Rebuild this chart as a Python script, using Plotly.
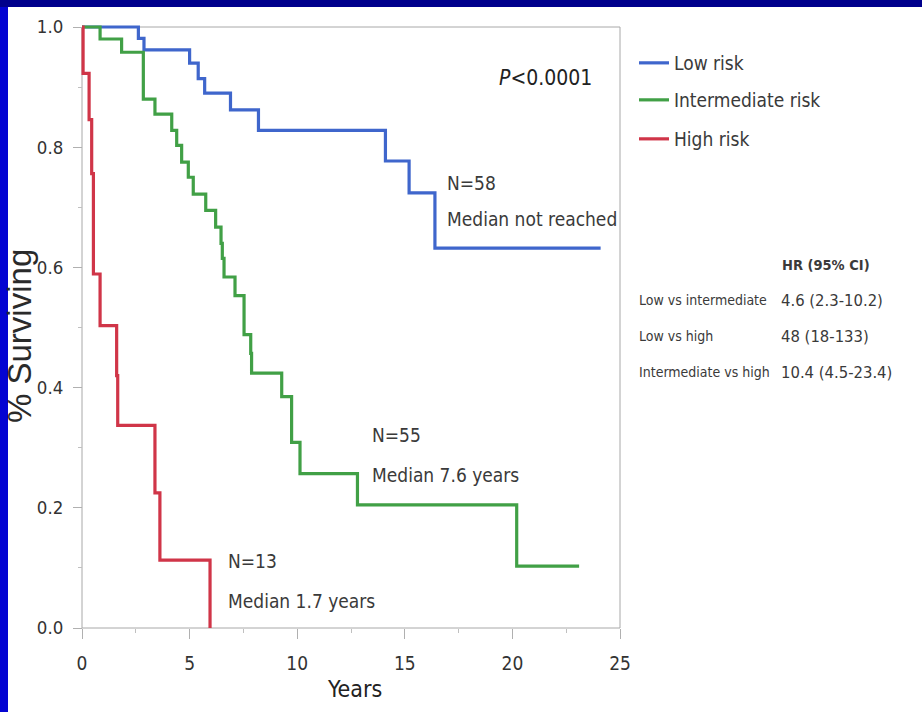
import plotly.graph_objects as go

# ---------------- data ----------------
low_t = [0, 2.62, 2.88, 5.0, 5.4, 5.7, 6.9, 8.2, 14.1, 15.2, 16.4, 24.1]
low_s = [1.0, 0.981, 0.962, 0.94, 0.914, 0.89, 0.862, 0.828, 0.777, 0.724, 0.632, 0.632]

mid_t = [0, 0.84, 1.84, 2.85, 3.39, 4.17, 4.4, 4.63, 4.94, 5.17, 5.75, 6.21, 6.46, 6.52,
         6.6, 7.11, 7.53, 7.84, 7.88, 9.28, 9.74, 10.13, 12.8, 20.2, 23.1]
mid_s = [1.0, 0.98, 0.958, 0.88, 0.855, 0.828, 0.803, 0.775, 0.75, 0.722, 0.695, 0.667, 0.64, 0.615,
         0.584, 0.553, 0.488, 0.457, 0.424, 0.385, 0.309, 0.257, 0.205, 0.103, 0.103]

high_t = [0, 0.05, 0.33, 0.45, 0.53, 0.84, 1.61, 1.66, 3.39, 3.62, 5.95]
high_s = [1.0, 0.923, 0.846, 0.756, 0.589, 0.503, 0.42, 0.337, 0.225, 0.113, 0.0]

series_names = ["Low risk", "Intermediate risk", "High risk"]
series_colors = ["#3f66cc", "#41a046", "#d03548"]

x_ticks = [0, 5, 10, 15, 20, 25]
y_ticks = [0.0, 0.2, 0.4, 0.6, 0.8, 1.0]
y_ticktext = ["0.0", "0.2", "0.4", "0.6", "0.8", "1.0"]

group_labels = [("N=58", "Median not reached", 16.87, 0.74, 0.68),
                ("N=55", "Median 7.6 years", 13.38, 0.321, 0.255),
                ("N=13", "Median 1.7 years", 6.69, 0.111, 0.045)]

hr_header = "HR (95% CI)"
hr_rows = ["Low vs intermediate", "Low vs high", "Intermediate vs high"]
hr_vals = ["4.6 (2.3-10.2)", "48 (18-133)", "10.4 (4.5-23.4)"]

# ---------------- geometry ----------------
W, H = 922, 712
L, R, T, B = 72, 630, 17, 638          # plot area in pixels
X0PX, X25PX, Y1PX, Y0PX = 82, 620, 27, 628
xs = (X25PX - X0PX) / 25.0
ys = (Y0PX - Y1PX) / 1.0
xrange = [-(X0PX - L) / xs, 25 + (R - X25PX) / xs]
yrange = [-(B - Y0PX) / ys, 1 + (Y1PX - T) / ys]


def px(x):
    return (x - L) / (R - L)


def py(y):
    return (B - y) / (B - T)


NARROW = "DejaVu Sans Condensed, DejaVu Sans, sans-serif"
TXT = "#3a3a3a"

legend_keys = ["legend", "legend2", "legend3"]
legend_ypx = [63, 100, 139]

fig = go.Figure()
for t, s, name, col, lg in zip([low_t, mid_t, high_t], [low_s, mid_s, high_s],
                               series_names, series_colors, legend_keys):
    fig.add_trace(go.Scatter(x=t, y=s, mode="lines", name=name, legend=lg,
                             line=dict(color=col, width=3.2, shape="hv")))

ann = []
ann.append(dict(x=19.28, y=0.915, xref="x", yref="y", text="<i>P</i>&lt;0.0001", showarrow=False,
                xanchor="left", yanchor="middle", font=dict(family=NARROW, size=21, color="#222")))
for n, med, gx, gy1, gy2 in group_labels:
    ann.append(dict(x=gx, y=gy1, xref="x", yref="y", text=n, showarrow=False, xanchor="left",
                    yanchor="middle", font=dict(family=NARROW, size=19, color=TXT)))
    ann.append(dict(x=gx, y=gy2, xref="x", yref="y", text=med, showarrow=False, xanchor="left",
                    yanchor="middle", font=dict(family=NARROW, size=19, color=TXT)))

ann.append(dict(x=px(780), y=py(265), xref="paper", yref="paper", text="<b>" + hr_header + "</b>",
                showarrow=False, xanchor="left", yanchor="middle",
                font=dict(family=NARROW, size=14.5, color=TXT)))
for i, (rw, vv) in enumerate(zip(hr_rows, hr_vals)):
    yy = py(300 + 36 * i)
    ann.append(dict(x=px(637), y=yy, xref="paper", yref="paper", text=rw, showarrow=False,
                    xanchor="left", yanchor="middle", font=dict(family=NARROW, size=14, color=TXT)))
    ann.append(dict(x=px(779), y=yy, xref="paper", yref="paper", text=vv, showarrow=False,
                    xanchor="left", yanchor="middle", font=dict(family=NARROW, size=16.5, color=TXT)))

ann.append(dict(x=px(354), y=py(689), xref="paper", yref="paper", text="Years", showarrow=False,
                xanchor="center", yanchor="middle", font=dict(family=NARROW, size=23, color="#222")))
ann.append(dict(x=px(19), y=py(336), xref="paper", yref="paper", text="% Surviving", showarrow=False,
                textangle=-90, xanchor="center", yanchor="middle",
                font=dict(family="Liberation Sans, Arial, sans-serif", size=33, color="#2a2a2a")))

shapes = [
    dict(type="rect", xref="x", yref="y", x0=0, x1=25, y0=0, y1=1,
         line=dict(color="#a8a8a8", width=1), layer="below"),
    dict(type="rect", xref="paper", yref="paper", x0=px(0), x1=px(8), y0=py(H), y1=py(0),
         fillcolor="#0404d2", line=dict(width=0)),
    dict(type="rect", xref="paper", yref="paper", x0=px(0), x1=px(W), y0=py(7), y1=py(0),
         fillcolor="#00008c", line=dict(width=0)),
]

legend_style = dict(xanchor="left", yanchor="middle", bgcolor="rgba(0,0,0,0)",
                    font=dict(family=NARROW, size=19, color=TXT), itemwidth=30)

fig.update_layout(
    width=W, height=H,
    margin=dict(l=L, r=W - R, t=T, b=H - B, pad=0),
    paper_bgcolor="white", plot_bgcolor="white",
    showlegend=True,
    legend=dict(x=px(634), y=py(legend_ypx[0]), **legend_style),
    legend2=dict(x=px(634), y=py(legend_ypx[1]), **legend_style),
    legend3=dict(x=px(634), y=py(legend_ypx[2]), **legend_style),
    annotations=ann, shapes=shapes,
    xaxis=dict(range=xrange, anchor="free", position=(B - Y0PX) / (B - T),
               showgrid=False, zeroline=False, showline=False,
               tickvals=x_ticks, ticks="outside", ticklen=10, tickcolor="#b0b0b0",
               ticklabelstandoff=8,
               minor=dict(tickvals=[2.5, 7.5, 12.5, 17.5, 22.5], ticks="outside", ticklen=4,
                          tickcolor="#c0c0c0"),
               tickfont=dict(family=NARROW, size=19, color="#333"), fixedrange=True),
    yaxis=dict(range=yrange, anchor="free", position=(X0PX - L) / (R - L),
               showgrid=False, zeroline=False, showline=False,
               tickvals=y_ticks, ticktext=y_ticktext, ticks="outside", ticklen=9,
               tickcolor="#b0b0b0", ticklabelstandoff=6,
               minor=dict(dtick=0.1, ticks="outside", ticklen=4, tickcolor="#c0c0c0"),
               tickfont=dict(family=NARROW, size=18.5, color="#333"), fixedrange=True),
)

fig.write_html("out.html")
